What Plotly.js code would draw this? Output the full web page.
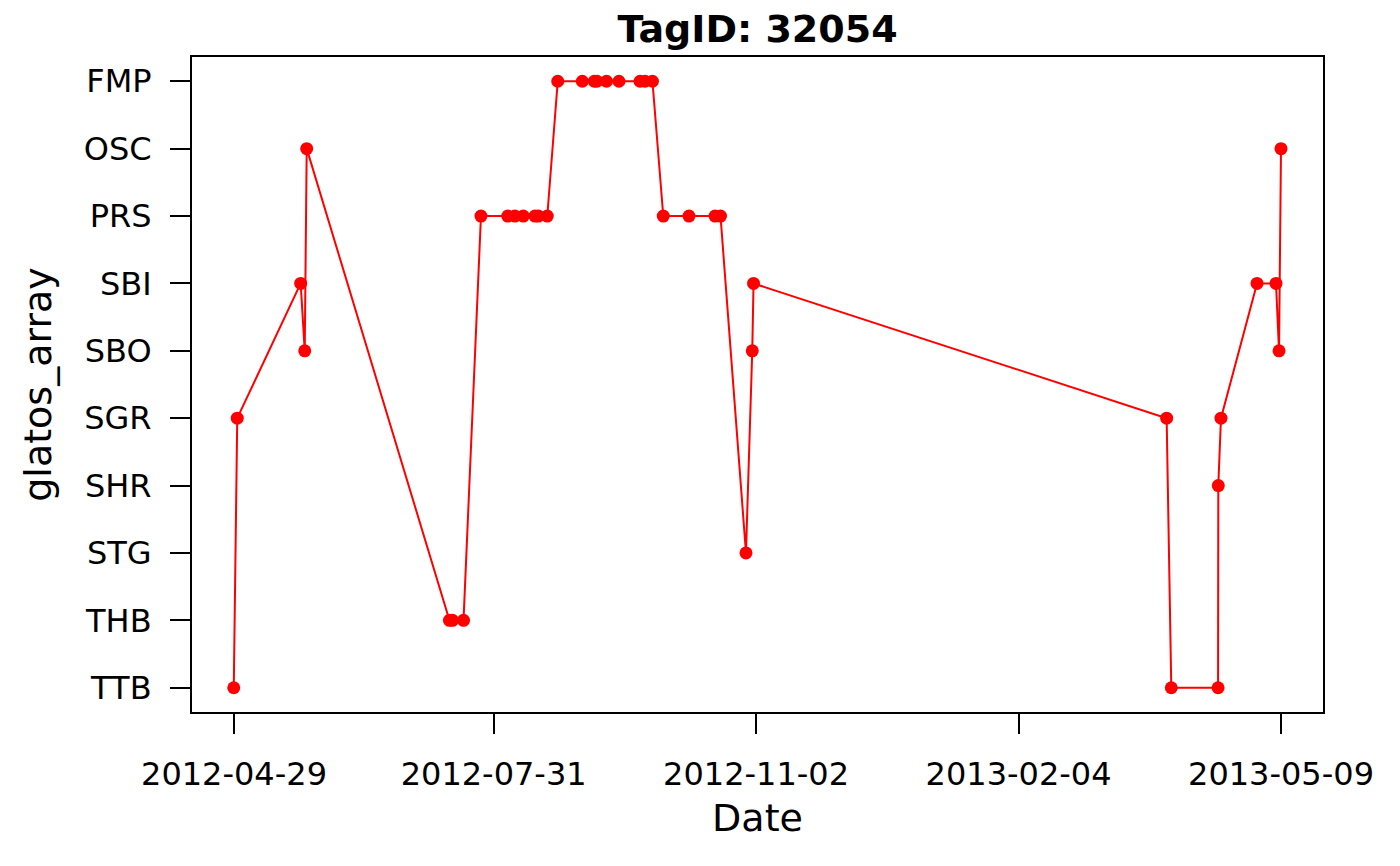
<!DOCTYPE html>
<html>
<head>
<meta charset="utf-8">
<script src="https://cdn.plot.ly/plotly-3.0.1.min.js"></script>
<style>
  html, body { margin: 0; padding: 0; background: #fff; }
  #plot { width: 1400px; height: 866px; }
</style>
</head>
<body>
<div id="plot"></div>
<script>
// receiver groups, bottom to top
var arrays = ["TTB", "THB", "STG", "SHR", "SGR", "SBO", "SBI", "PRS", "OSC", "FMP"];

// detection times
var detTime = [
	"2012-04-28 22:00", "2012-04-30 04:00", "2012-05-22 21:00", "2012-05-24 08:00", "2012-05-25 01:00",
	"2012-07-15 04:00", "2012-07-16 06:00", "2012-07-20 05:00",
	"2012-07-26 11:00", "2012-08-05 01:00", "2012-08-07 15:00", "2012-08-10 15:00", "2012-08-14 19:00",
	"2012-08-16 00:00", "2012-08-19 05:00",
	"2012-08-22 23:00", "2012-08-31 18:00", "2012-09-05 01:00", "2012-09-06 00:00", "2012-09-09 10:00",
	"2012-09-13 21:00", "2012-09-21 10:00", "2012-09-23 05:00", "2012-09-25 21:00",
	"2012-09-29 18:00", "2012-10-08 23:00", "2012-10-18 07:00", "2012-10-20 06:00",
	"2012-10-29 09:00", "2012-10-31 15:00", "2012-11-01 02:00",
	"2013-03-29 01:00", "2013-03-30 17:00", "2013-04-16 11:00", "2013-04-16 13:00", "2013-04-17 12:00",
	"2013-04-30 10:00", "2013-05-07 05:00", "2013-05-08 07:00", "2013-05-09 00:00"
];

var detArray = [
	"TTB", "SGR", "SBI", "SBO", "OSC",
	"THB", "THB", "THB",
	"PRS", "PRS", "PRS", "PRS", "PRS", "PRS", "PRS",
	"FMP", "FMP", "FMP", "FMP", "FMP", "FMP", "FMP", "FMP", "FMP",
	"PRS", "PRS", "PRS", "PRS",
	"STG", "SBO", "SBI",
	"SGR", "TTB", "TTB", "SHR", "SGR",
	"SBI", "SBI", "SBO", "OSC"
];

var dateTicks = ["2012-04-29", "2012-07-31", "2012-11-02", "2013-02-04", "2013-05-09"];

var font = "DejaVu Sans";

var trace = {
	x: detTime,
	y: detArray,
	type: 'scatter',
	mode: 'lines+markers',
	line: {color: '#ff0000', width: 2},
	marker: {color: '#ff0000', size: 13, symbol: 'circle'},
	hoverinfo: 'x+y'
};

var layout = {
	width: 1400,
	height: 866,
	paper_bgcolor: '#ffffff',
	plot_bgcolor: '#ffffff',
	showlegend: false,
	margin: {l: 192, r: 77, t: 57, b: 154, pad: 0},
	font: {family: font, color: '#000000', size: 32},
	title: {
		text: 'TagID: 32054',
		font: {family: font, size: 38, weight: 'bold', color: '#000000'},
		x: 0.5411, xref: 'container',
		y: 1 - 29 / 866, yref: 'container', yanchor: 'middle'
	},
	xaxis: {
		type: 'date',
		range: ['2012-04-13 23:00', '2013-05-24 01:00'],
		tickmode: 'array',
		tickvals: dateTicks,
		ticktext: dateTicks,
		ticks: 'outside', ticklen: 20, tickwidth: 2, tickcolor: '#000000',
		ticklabelstandoff: 13,
		showgrid: false, zeroline: false,
		showline: true, mirror: true, linecolor: '#000000', linewidth: 2,
		tickfont: {family: font, size: 32, color: '#000000'},
		title: {text: 'Date', font: {family: font, size: 38, color: '#000000'}, standoff: 12},
		automargin: false
	},
	yaxis: {
		type: 'category',
		categoryorder: 'array',
		categoryarray: arrays,
		tickvals: arrays,
		range: [-0.36, 9.36],
		ticks: 'outside', ticklen: 20, tickwidth: 2, tickcolor: '#000000',
		ticklabelstandoff: 12,
		showgrid: false, zeroline: false,
		showline: true, mirror: true, linecolor: '#000000', linewidth: 2,
		tickfont: {family: font, size: 32, color: '#000000'},
		title: {text: 'glatos_array', font: {family: font, size: 38, color: '#000000'}, standoff: 20},
		automargin: false
	}
};

Plotly.newPlot('plot', [trace], layout, {displayModeBar: false, staticPlot: true});
</script>
</body>
</html>
